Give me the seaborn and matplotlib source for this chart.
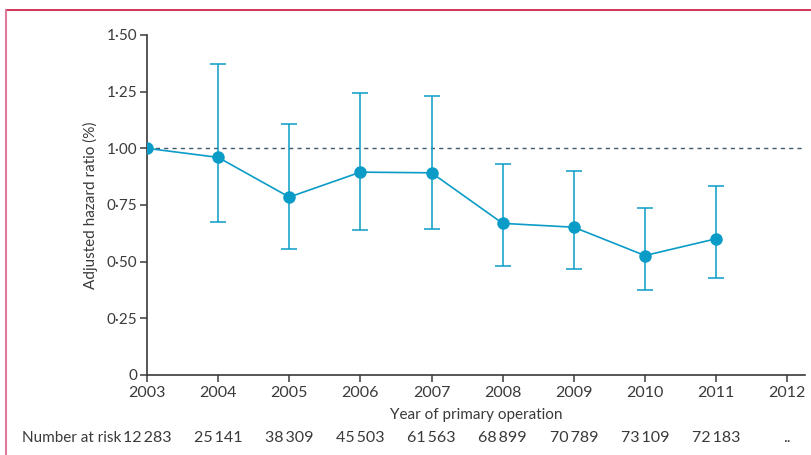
import numpy as np
import pandas as pd
import matplotlib
matplotlib.use('Agg')
import matplotlib.pyplot as plt
from matplotlib.lines import Line2D
import seaborn as sns

years = [2003, 2004, 2005, 2006, 2007, 2008, 2009, 2010, 2011]
hazard = [1.00, 0.96, 0.785, 0.895, 0.892, 0.669, 0.652, 0.527, 0.601]
upper = [1.00, 1.372, 1.107, 1.244, 1.231, 0.929, 0.901, 0.737, 0.834]
lower = [1.00, 0.675, 0.556, 0.640, 0.646, 0.482, 0.469, 0.375, 0.428]
tick_years = list(range(2003, 2013))
at_risk = ['12\u2009283', '25\u2009141', '38\u2009309', '45\u2009503', '61\u2009563',
           '68\u2009899', '70\u2009789', '73\u2009109', '72\u2009183', '..']
y_ticks = [0, 0.25, 0.50, 0.75, 1.00, 1.25, 1.50]
y_labels = ['0', '0·25', '0·50', '0·75', '1·00', '1·25', '1·50']

sns.set_style('ticks')
plt.rcParams['font.family'] = ['Lato', 'DejaVu Sans']

blue = '#0a9cc6'
grey = '#3a3a3a'

df = pd.DataFrame({'year': years, 'hr': hazard, 'lo': lower, 'hi': upper})

fig = plt.figure(figsize=(8.11, 4.55), dpi=100)
ax = fig.add_axes([147 / 811, 1 - 375 / 455, 658 / 811, 340 / 455])

# reference line at HR = 1
ax.axhline(1.0, color='#3d5b6e', linestyle=(0, (3, 3)), linewidth=1.0, zorder=1)

ci = df.iloc[1:]
ax.errorbar(ci['year'], ci['hr'], yerr=[ci['hr'] - ci['lo'], ci['hi'] - ci['hr']],
            fmt='none', ecolor=blue, elinewidth=1.1, capsize=5.5, capthick=1.1, zorder=2)
sns.lineplot(data=df, x='year', y='hr', ax=ax, color=blue, linewidth=1.2,
             marker='o', markersize=9, markeredgewidth=0, zorder=3)

ax.set_xlim(2003, 2012.25)
ax.set_ylim(0, 1.5)
ax.set_xticks(tick_years)
ax.set_xticklabels([str(y) for y in tick_years], fontsize=11.5, color=grey)
ax.set_yticks(y_ticks)
ax.set_yticklabels(y_labels, fontsize=11, color=grey)
ax.tick_params(axis='x', direction='out', length=5, width=1.1, color=grey, pad=3)
ax.tick_params(axis='y', direction='out', length=5, width=1.1, color=grey, pad=2)
ax.set_xlabel('Year of primary operation', fontsize=11, color=grey, labelpad=6)
ax.set_ylabel('Adjusted hazard ratio (%)', fontsize=11, color=grey, labelpad=6)
for s in ['left', 'bottom']:
    ax.spines[s].set_color(grey)
    ax.spines[s].set_linewidth(1.2)
sns.despine(ax=ax)
ax.spines['left'].set_bounds(0, 1.5)

# number at risk row
for yr, n in zip(tick_years, at_risk):
    ax.text(yr, -0.277, n, ha='center', va='center', fontsize=11.5, color=grey,
            transform=ax.transData, clip_on=False)
fig.text(22 / 811, 1 - 438 / 455, 'Number at risk', ha='left', va='center',
         fontsize=11, color=grey)

# panel frame
fig.add_artist(Line2D([6 / 811, 1], [1 - 10 / 455, 1 - 10 / 455], color='#c8143c',
                      linewidth=1.2, transform=fig.transFigure))
fig.add_artist(Line2D([6 / 811, 6 / 811], [0, 1 - 10 / 455], color='#e07a9a',
                      linewidth=1.5, transform=fig.transFigure))

fig.savefig('out.png', dpi=100)
